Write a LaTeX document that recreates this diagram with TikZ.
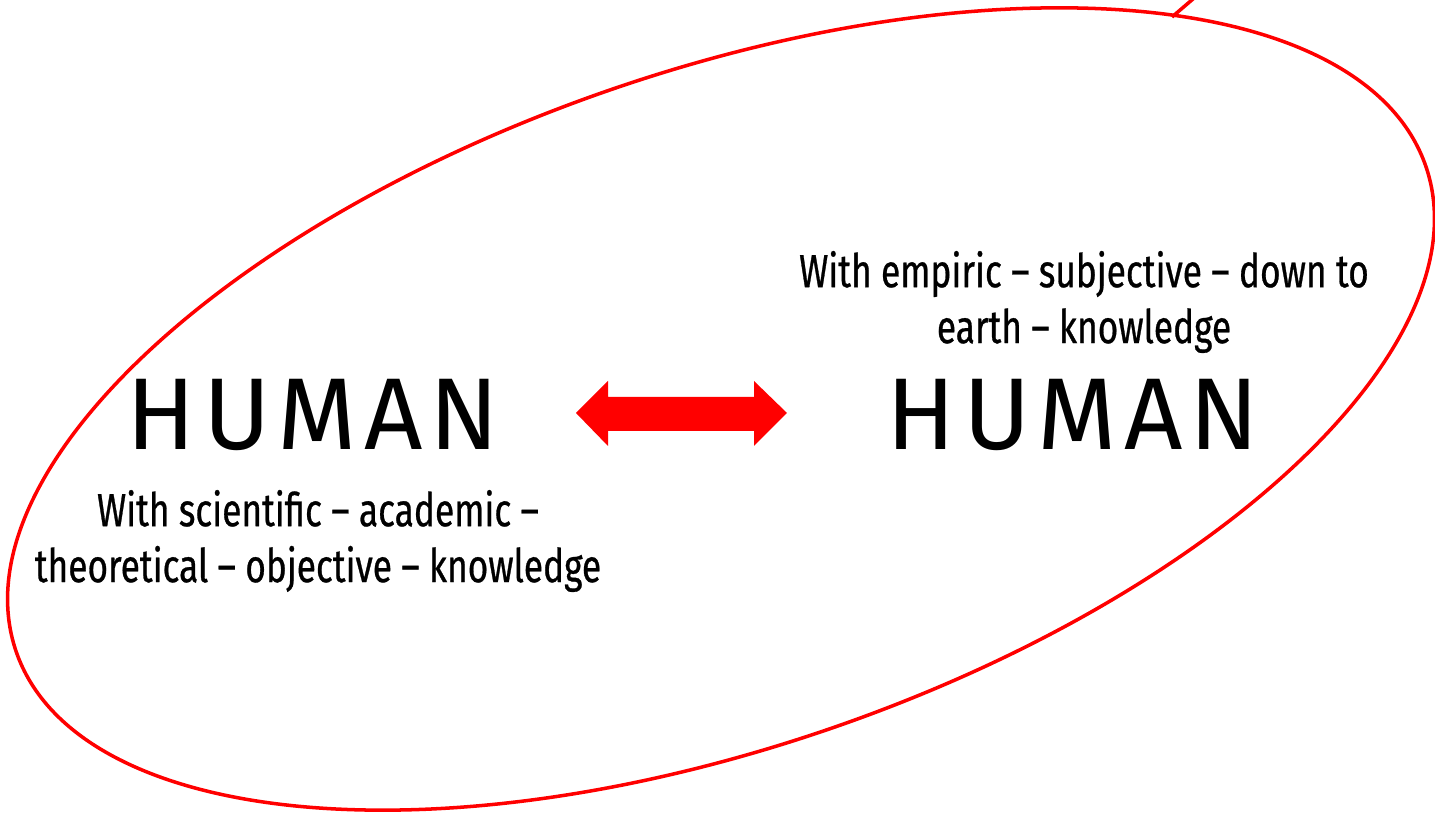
\documentclass[tikz,border=0pt]{standalone}
\usepackage{fontspec}
\setmainfont{Fira Sans}
\newfontfamily\narrowfont[FakeStretch=0.76, FakeBold=0.6]{Fira Sans}
\newfontfamily\widefont[LetterSpace=7]{Fira Sans}
\usetikzlibrary{calc}

\tikzset{
  big/.style={font=\widefont\fontsize{29}{29}\selectfont, inner sep=0, anchor=base},
  note/.style={font=\narrowfont\fontsize{13.2}{15.9}\selectfont, align=center, inner sep=0},
  rim/.style={red, line width=1pt}
}

\begin{document}
\begin{tikzpicture}[x=0.01cm, y=-0.01cm]
	\useasboundingbox (0,0) rectangle (1435,813);
	\coordinate (C) at (721,409);
	\draw[rim, rotate around={19:(C)}] (C) ellipse [x radius=7.45cm, y radius=3.376cm];
	\coordinate (T) at (1172,17);
	\coordinate (U) at (1200,-7);
	\draw[rim] (T) -- (U);
	\node[big] (HL) at (313,450) {HUMAN};
	\node[big] (HR) at (1073,450) {HUMAN};
	\node[note] (KL) at (318,541) {With scientific – academic –\\theoretical – objective – knowledge};
	\node[note] (KR) at (1084,302) {With empiric – subjective – down to\\earth – knowledge};
	% double arrow between the two
	\fill[red] (576,413) -- (608,381) -- (608,397) -- (754,397) -- (754,381) -- (787,413)
		-- (754,446) -- (754,431) -- (608,431) -- (608,446) -- cycle;
\end{tikzpicture}
\end{document}
